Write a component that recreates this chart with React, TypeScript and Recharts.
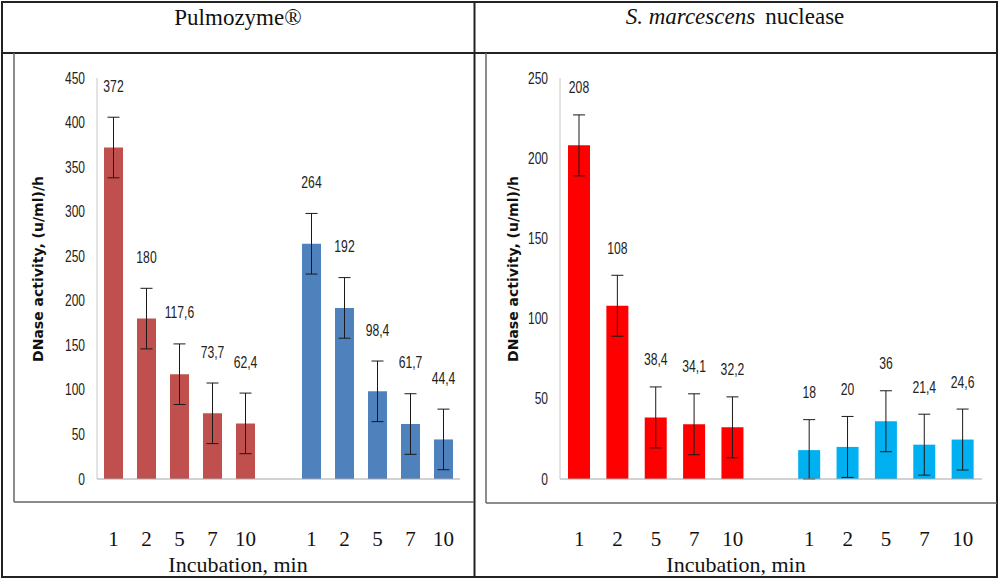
import React from 'react';
import { BarChart, Bar, XAxis, YAxis, ErrorBar, LabelList, Cell } from 'recharts';

const minutes = ['1', '2', '5', '7', '10', '', '1', '2', '5', '7', '10'];

const pulmoFirst = [372, 180, 117.6, 73.7, 62.4];
const pulmoSecond = [264, 192, 98.4, 61.7, 44.4];
const pulmoSd = 34;
const pulmoTicks = [0, 50, 100, 150, 200, 250, 300, 350, 400, 450];

const serraFirst = [208, 108, 38.4, 34.1, 32.2];
const serraSecond = [18, 20, 36, 21.4, 24.6];
const serraSd = 19;
const serraTicks = [0, 50, 100, 150, 200, 250];

const headerLeft = 'Pulmozyme®';
const headerRightItalic = 'S. marcescens';
const headerRightPlain = 'nuclease';
const yTitle = 'DNase activity, (u/ml)/h';
const xTitle = 'Incubation, min';

type Row = { key: number; v: number | null; err: number[] | null; group: number };

function buildRows(first: number[], second: number[], sd: number): Row[] {
  const vals: (number | null)[] = [...first, null, ...second];
  return minutes.map((_, i) => {
    const v = vals[i];
    return {
      key: i,
      v,
      err: v == null ? null : [Math.min(sd, v), sd],
      group: i < 5 ? 0 : 1,
    };
  });
}

const pulmoRows = buildRows(pulmoFirst, pulmoSecond, pulmoSd);
const serraRows = buildRows(serraFirst, serraSecond, serraSd);

const SANS = '"Liberation Sans", Arial, sans-serif';
const SERIF = '"Liberation Serif", "Times New Roman", serif';

function YTick(props: any) {
  const { x, y, payload } = props;
  return (
    <g transform={`translate(${x},${y + 5.5}) scale(0.75,1)`}>
      <text x={0} y={0} textAnchor="end" fontFamily={SANS} fontSize={16} fill="#222">
        {payload.value}
      </text>
    </g>
  );
}

function XTick(props: any) {
  const { x, y, payload } = props;
  return (
    <text x={x} y={y + 67} textAnchor="middle" fontFamily={SERIF} fontSize={21} fill="#111">
      {minutes[payload.value]}
    </text>
  );
}

function makeLabel(sd: number, lift: number) {
  return (props: any) => {
    const vb = props.viewBox || props;
    const x = vb.x ?? props.x;
    const y = vb.y ?? props.y;
    const width = vb.width ?? props.width;
    const height = vb.height ?? props.height;
    const value = props.value;
    if (value == null || !height) return null;
    const perUnit = height / value;
    const errTop = y - sd * perUnit;
    const cx = x + width / 2;
    const cy = errTop - lift;
    return (
      <g transform={`translate(${cx},${cy + 5.5}) scale(0.76,1)`}>
        <text x={0} y={0} textAnchor="middle" fontFamily={SANS} fontSize={16} fill="#222">
          {String(value).replace('.', ',')}
        </text>
      </g>
    );
  };
}

type PanelProps = {
  rows: Row[];
  ticks: number[];
  max: number;
  colors: string[];
  sd: number;
  lift: number;
  barSize: number;
  left: number;
  width: number;
  marginLeft: number;
  marginRight: number;
};

function Panel(p: PanelProps) {
  return (
    <div style={{ position: 'absolute', left: p.left, top: 0 }}>
      <BarChart
        width={p.width}
        height={580}
        data={p.rows}
        margin={{ top: 78, right: p.marginRight, bottom: 41, left: p.marginLeft }}
        barSize={p.barSize}
      >
        <XAxis
          dataKey="key"
          type="category"
          height={60}
          tickLine={false}
          tickSize={0}
          tickMargin={0}
          axisLine={{ stroke: '#a6a6a6', strokeWidth: 1.2 }}
          tick={<XTick />}
          interval={0}
        />
        <YAxis
          width={60}
          domain={[0, p.max]}
          ticks={p.ticks}
          allowDataOverflow
          tickLine={false}
          tickSize={0}
          tickMargin={12}
          axisLine={{ stroke: '#c8c8c8', strokeWidth: 1 }}
          tick={<YTick />}
          interval={0}
        />
        <Bar dataKey="v" isAnimationActive={false}>
          {p.rows.map((r) => (
            <Cell key={r.key} fill={p.colors[r.group]} />
          ))}
          <ErrorBar dataKey="err" width={6} stroke="#1a1a1a" strokeWidth={1} isAnimationActive={false} />
          <LabelList dataKey="v" content={makeLabel(p.sd, p.lift)} />
        </Bar>
      </BarChart>
    </div>
  );
}

export default function App() {
  return (
    <div style={{ position: 'absolute', left: 0, top: 0, width: 1000, height: 580, background: '#fff' }}>
      <Panel
        rows={pulmoRows}
        ticks={pulmoTicks}
        max={450}
        colors={['#C0504D', '#4F81BD']}
        sd={pulmoSd}
        lift={31}
        barSize={19}
        left={0}
        width={474}
        marginLeft={37}
        marginRight={14}
      />
      <Panel
        rows={serraRows}
        ticks={serraTicks}
        max={250}
        colors={['#FF0000', '#00B0F0']}
        sd={serraSd}
        lift={27}
        barSize={22}
        left={474}
        width={526}
        marginLeft={26}
        marginRight={18}
      />
      <svg
        width={1000}
        height={580}
        style={{ position: 'absolute', left: 0, top: 0, pointerEvents: 'none' }}
      >
        <rect x={2} y={2} width={995} height={575} fill="none" stroke="#222" strokeWidth={2} />
        <line x1={2} y1={53} x2={997} y2={53} stroke="#222" strokeWidth={2} />
        <line x1={474.5} y1={2} x2={474.5} y2={577} stroke="#222" strokeWidth={2} />
        <line x1={14} y1={53} x2={14} y2={502} stroke="#666" strokeWidth={1.5} />
        <line x1={14} y1={502} x2={474} y2={502} stroke="#666" strokeWidth={1.5} />
        <line x1={486} y1={53} x2={486} y2={503} stroke="#666" strokeWidth={1.5} />
        <line x1={486} y1={503} x2={997} y2={503} stroke="#666" strokeWidth={1.5} />
        <text x={238} y={25} textAnchor="middle" fontFamily={SERIF} fontSize={23} fill="#111">
          {headerLeft}
        </text>
        <text x={735} y={24} textAnchor="middle" fontFamily={SERIF} fontSize={23} fill="#111">
          <tspan fontStyle="italic">{headerRightItalic}</tspan>
          <tspan dx={10}>{headerRightPlain}</tspan>
        </text>
        <text
          transform="translate(43,269) rotate(-90)"
          textAnchor="middle"
          fontFamily='"DejaVu Sans", Verdana, sans-serif'
          fontWeight="bold"
          fontSize={14}
          fill="#111"
        >
          {yTitle}
        </text>
        <text
          transform="translate(518,269) rotate(-90)"
          textAnchor="middle"
          fontFamily='"DejaVu Sans", Verdana, sans-serif'
          fontWeight="bold"
          fontSize={14}
          fill="#111"
        >
          {yTitle}
        </text>
        <text x={238} y={572} textAnchor="middle" fontFamily={SERIF} fontSize={22} fill="#111">
          {xTitle}
        </text>
        <text x={736} y={572} textAnchor="middle" fontFamily={SERIF} fontSize={22} fill="#111">
          {xTitle}
        </text>
      </svg>
    </div>
  );
}
